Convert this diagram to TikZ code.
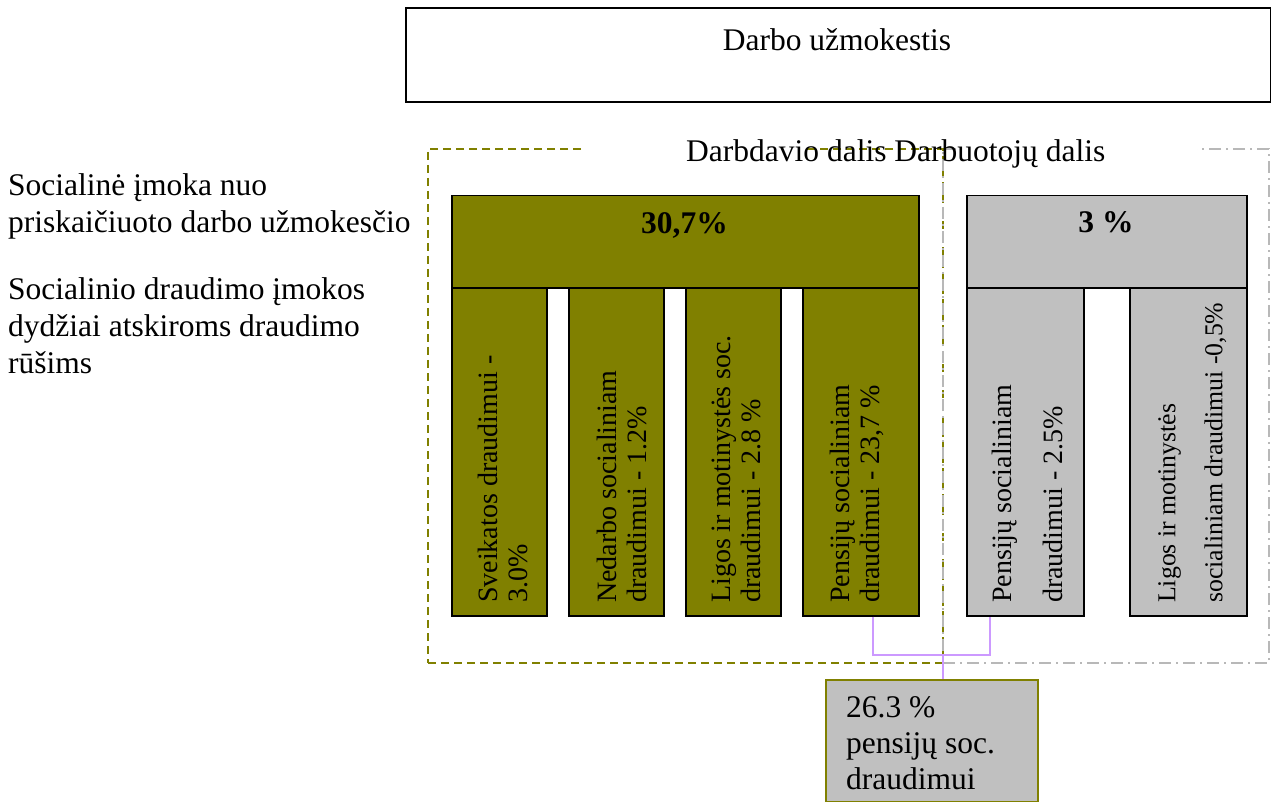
\documentclass[tikz,border=0pt]{standalone}
\usepackage{fontspec}
\setmainfont{Liberation Serif}
\definecolor{oliv}{HTML}{808000}
\definecolor{silv}{HTML}{C0C0C0}
\definecolor{dashgrey}{HTML}{B8B8B8}
\definecolor{lav}{HTML}{CC99FF}
\begin{document}
\begin{tikzpicture}[x=1pt,y=-1pt,
  font=\fontsize{31.5}{36.5}\selectfont,
  box/.style={draw=black, line width=1.5pt, inner sep=0pt, anchor=north west},
  olivefill/.style={box, fill=oliv},
  greyfill/.style={box, fill=silv},
  bartext/.style={rotate=90, anchor=north west, align=left, inner sep=0pt},
  plaintext/.style={inner sep=0pt},
  olivedash/.style={draw=oliv, line width=2pt, dash pattern=on 8pt off 5pt},
  greydashdot/.style={draw=dashgrey, line width=2pt, dash pattern=on 12pt off 5pt on 2pt off 5pt},
  conn/.style={draw=lav, line width=2pt}]
\useasboundingbox (0,0) rectangle (1271,802);

% top box
\node[draw=black, line width=2pt, inner sep=0pt, anchor=north west,
      minimum width=865, minimum height=94] (top) at (404.5,7.5) {};
\node[plaintext, anchor=base] (toptext) at (837,51) {Darbo užmokestis};

% left explanatory texts
\node[plaintext, anchor=north west, align=left, font=\fontsize{31.5}{37}\selectfont] (lt1) at (8,173.5)
  {Socialinė įmoka nuo\\priskaičiuoto darbo užmokesčio};
\node[plaintext, anchor=north west, align=left, font=\fontsize{31.5}{37}\selectfont] (lt2) at (8,277.5)
  {Socialinio draudimo įmokos\\dydžiai atskiroms draudimo\\rūšims};

% dashed group frames
\node[olivedash, inner sep=0pt, anchor=north west, minimum width=515, minimum height=514] (gl) at (427,148) {};
\node[greydashdot, inner sep=0pt, anchor=north west, minimum width=326, minimum height=514] (gr) at (942,148) {};
\fill[white] (586,140) rectangle (805,156);
\fill[white] (956,140) rectangle (1197,156);
\node[plaintext, anchor=base west] (lbl) at (686,162) {Darbdavio dalis Darbuotojų dalis};

% employer part
\node[olivefill, minimum width=467, minimum height=92] (emp) at (451,195) {};
\node[plaintext, anchor=base] (emptxt) at (684.5,234) {\bfseries 30,7\%};
\node[olivefill, minimum width=95, minimum height=328] (b1) at (451,287) {};
\node[olivefill, minimum width=95, minimum height=328] (b2) at (568,287) {};
\node[olivefill, minimum width=95, minimum height=328] (b3) at (685,287) {};
\node[olivefill, minimum width=116, minimum height=328] (b4) at (802,287) {};

% employee part
\node[greyfill, minimum width=280, minimum height=92] (emq) at (966,195) {};
\node[plaintext, anchor=base] (emqtxt) at (1106,233) {\bfseries 3 \%};
\node[greyfill, minimum width=117, minimum height=328] (g1) at (966,287) {};
\node[greyfill, minimum width=117, minimum height=328] (g2) at (1129,287) {};

% bar texts
\node[bartext, font=\fontsize{28}{30}\selectfont] (t1) at (478,603) {Sveikatos draudimui -\\3.0\%};
\node[bartext, font=\fontsize{28}{30}\selectfont] (t2) at (597,603) {Nedarbo socialiniam\\draudimui - 1.2\%};
\node[bartext, font=\fontsize{28}{30}\selectfont] (t3) at (712,603) {Ligos ir motinystės soc.\\draudimui - 2.8 \%};
\node[bartext, font=\fontsize{28}{30}\selectfont] (t4) at (830,603) {Pensijų socialiniam\\draudimui - 23,7 \%};
\node[bartext, font=\fontsize{28}{51}\selectfont] (t5) at (992,603) {Pensijų socialiniam\\draudimui - 2.5\%};
\node[bartext, font=\fontsize{25.8}{47}\selectfont] (t6) at (1158,603) {Ligos ir motinystės\\socialiniam draudimui -0,5\%};

% result box
\node[draw=oliv, fill=silv, line width=2pt, inner sep=0pt, anchor=north west,
      minimum width=212, minimum height=122] (res) at (825,679) {};
\node[plaintext, anchor=north west, align=left, font=\fontsize{31.5}{36}\selectfont] (restxt) at (846,696)
  {26.3 \%\\pensijų soc.\\draudimui};

% connectors
\coordinate (j) at (943,655);
\draw[conn] ([xshift=12pt]b4.south) |- (j) -| ([xshift=-35.5pt]g1.south);
\draw[conn] (j) -- (res.north -| j);
\end{tikzpicture}
\end{document}
